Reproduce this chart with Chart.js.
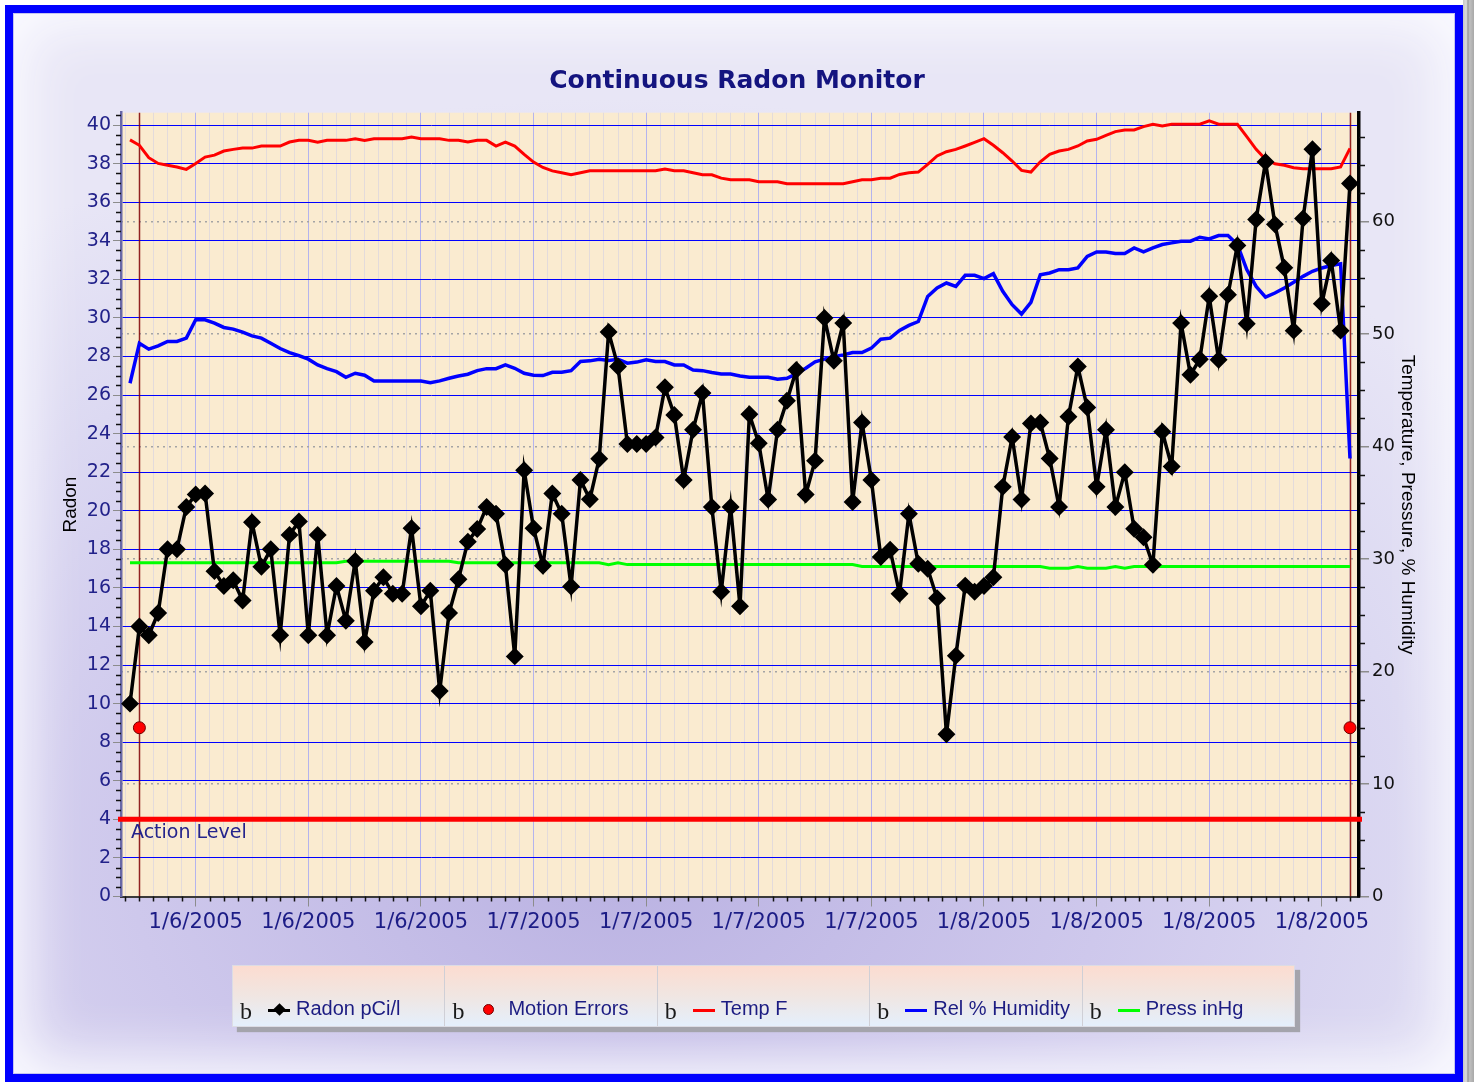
<!DOCTYPE html>
<html><head><meta charset="utf-8">
<script src="https://cdn.jsdelivr.net/npm/chart.js@4.4.1/dist/chart.umd.min.js"></script>
<style>
html,body{margin:0;padding:0;width:1474px;height:1082px;overflow:hidden;background:#fff;}
#frame{position:absolute;left:5px;top:5px;width:1458px;height:1077px;box-sizing:border-box;border:8px solid #0000ff;
 background:radial-gradient(ellipse 75% 72% at 42% 80%, #bab2e2 0%, #cec8ec 45%, #dcd9f2 75%, #e8e6f6 100%);
 box-shadow:inset 0 0 0 1px #c4c4f0, inset 0 0 55px 14px #fbfbff;}
#edge{position:absolute;left:1463px;top:0;width:11px;height:1082px;background:linear-gradient(to right,#c8c8c8 0,#dcdcdc 30%,#9a9a9a 45%,#c0c0c0 60%,#a8a8a8 100%);}
#chart{position:absolute;left:0;top:0;}
#legend{position:absolute;left:232px;top:965px;width:1063px;height:62px;display:flex;background:linear-gradient(to bottom,#fcdcd0 0%,#f0e6e2 50%,#e4effc 100%);box-shadow:5px 5px 1px #a4a4ac;border:1px solid #dcdce4;box-sizing:border-box;}
.cell{position:relative;flex:1;border-right:1px solid #cfcfd6;}
.cell:last-child{border-right:none}
.glyph{position:absolute;left:7px;top:33px;font:24px "Liberation Serif";color:#1a1a1a;line-height:1;}
.txt{position:absolute;left:63px;top:31px;font:20px "Liberation Sans";color:#1c1c82;white-space:nowrap;}
.mk{position:absolute;left:35px;top:43px;width:22px;height:3px;}
.dia{position:absolute;width:9px;height:9px;background:#000;transform:rotate(45deg);left:42px;top:39px;}
.dot{position:absolute;width:11px;height:11px;border-radius:50%;background:#ff0000;border:1px solid #700000;left:38px;top:38px;box-sizing:border-box;}
</style></head>
<body>
<div id="frame"></div>
<div id="edge"></div>
<canvas id="chart" width="1474" height="1082"></canvas>
<div id="legend"></div>
<script>
// ---------------- DATA ----------------
const chartTitle = 'Continuous Radon Monitor';
const xTickLabels = ['1/6/2005','1/6/2005','1/6/2005','1/7/2005','1/7/2005','1/7/2005','1/7/2005','1/8/2005','1/8/2005','1/8/2005','1/8/2005'];
const leftTicks = [0,2,4,6,8,10,12,14,16,18,20,22,24,26,28,30,32,34,36,38,40];
const rightTicks = [0,10,20,30,40,50,60];
const seriesLabels = ['Radon pCi/l','Motion Errors','Temp F','Rel % Humidity','Press inHg'];

const radon = [10.0,14.0,13.55,14.7,18.0,18.0,20.2,20.85,20.9,16.87,
 16.1,16.4,15.35,19.4,17.1,18.0,13.55,18.75,19.45,13.55,
 18.75,13.55,16.1,14.3,17.4,13.2,15.85,16.55,15.7,15.7,
 19.1,15.05,15.85,10.65,14.7,16.45,18.4,19.05,20.2,19.85,
 17.2,12.45,22.1,19.1,17.15,20.9,19.85,16.07,21.6,20.6,
 22.7,29.27,27.48,23.46,23.46,23.46,23.8,26.4,24.97,21.6,
 24.2,26.1,20.2,15.8,20.2,15.05,25.0,23.5,20.58,24.2,
 25.7,27.3,20.84,22.6,30.0,27.78,29.73,20.45,24.58,21.6,
 17.6,17.98,15.7,19.85,17.25,16.99,15.46,8.41,12.48,16.12,
 15.8,16.1,16.55,21.24,23.83,20.58,24.53,24.58,22.71,20.2,
 24.88,27.48,25.35,21.24,24.2,20.2,22.0,19.07,18.63,17.2,
 24.1,22.3,29.73,27.05,27.86,31.12,27.83,31.2,33.76,29.7,
 35.1,38.09,34.85,32.6,29.34,35.15,38.75,30.74,32.98,29.34,
 36.97];

const tempF = [67.25,66.77,65.67,65.16,64.99,64.84,64.63,65.16,65.72,65.9,
 66.26,66.41,66.52,66.52,66.7,66.7,66.7,67.06,67.21,67.21,
 67.04,67.21,67.21,67.21,67.36,67.21,67.36,67.36,67.36,67.36,
 67.51,67.36,67.36,67.36,67.21,67.21,67.06,67.21,67.21,66.7,
 67.06,66.7,65.97,65.28,64.8,64.5,64.33,64.15,64.33,64.51,
 64.51,64.51,64.51,64.51,64.51,64.51,64.51,64.66,64.51,64.51,
 64.33,64.15,64.15,63.85,63.7,63.7,63.7,63.53,63.53,63.53,
 63.35,63.35,63.35,63.35,63.35,63.35,63.35,63.53,63.7,63.7,
 63.85,63.85,64.18,64.33,64.39,65.08,65.82,66.2,66.41,66.71,
 67.03,67.36,66.77,66.11,65.37,64.54,64.39,65.31,65.97,66.26,
 66.41,66.71,67.15,67.3,67.66,67.99,68.13,68.13,68.43,68.64,
 68.49,68.64,68.64,68.64,68.64,68.94,68.64,68.64,68.64,67.54,
 66.41,65.52,65.13,64.99,64.78,64.69,64.69,64.69,64.69,64.84,
 66.5];

const humidity = [45.62,49.18,48.65,48.94,49.33,49.33,49.63,51.26,51.26,50.97,
 50.58,50.43,50.16,49.83,49.63,49.18,48.71,48.35,48.08,47.76,
 47.25,46.92,46.65,46.15,46.51,46.33,45.82,45.82,45.82,45.82,
 45.82,45.82,45.67,45.83,46.06,46.27,46.42,46.74,46.92,46.92,
 47.25,46.95,46.51,46.33,46.3,46.6,46.6,46.74,47.55,47.61,
 47.76,47.64,47.76,47.4,47.5,47.7,47.55,47.55,47.25,47.25,
 46.8,46.74,46.57,46.45,46.45,46.27,46.15,46.15,46.15,45.97,
 46.06,46.45,46.95,47.52,47.76,47.99,48.14,48.35,48.35,48.74,
 49.54,49.63,50.31,50.76,51.11,53.34,54.09,54.53,54.23,55.21,
 55.21,54.92,55.36,53.79,52.6,51.77,52.81,55.27,55.42,55.72,
 55.72,55.87,56.9,57.29,57.29,57.15,57.15,57.65,57.29,57.65,
 57.95,58.1,58.25,58.25,58.6,58.45,58.75,58.75,57.95,55.72,
 54.23,53.28,53.64,54.09,54.59,55.12,55.57,55.87,56.08,56.23,
 38.93];

const pressure = [29.66,29.66,29.66,29.66,29.66,29.66,29.66,29.66,29.66,29.66,
 29.66,29.66,29.66,29.66,29.66,29.66,29.66,29.66,29.66,29.66,
 29.66,29.66,29.66,29.8,29.8,29.8,29.8,29.8,29.8,29.8,
 29.8,29.8,29.8,29.8,29.8,29.66,29.66,29.66,29.66,29.66,
 29.66,29.66,29.66,29.66,29.66,29.66,29.66,29.66,29.66,29.66,
 29.66,29.5,29.66,29.5,29.5,29.5,29.5,29.5,29.5,29.5,
 29.5,29.5,29.5,29.5,29.5,29.5,29.5,29.5,29.5,29.5,
 29.5,29.5,29.5,29.5,29.5,29.5,29.5,29.5,29.34,29.34,
 29.34,29.34,29.34,29.34,29.34,29.34,29.34,29.34,29.34,29.34,
 29.34,29.34,29.34,29.34,29.34,29.34,29.34,29.34,29.18,29.18,
 29.18,29.34,29.18,29.18,29.18,29.34,29.18,29.34,29.34,29.34,
 29.34,29.34,29.34,29.34,29.34,29.34,29.34,29.34,29.34,29.34,
 29.34,29.34,29.34,29.34,29.34,29.34,29.34,29.34,29.34,29.34,
 29.34];

const motionErrorIndex = [1, 130];
const motionErrorValue = [15, 15];
const actionLevel = 4;
const actionLevelText = 'Action Level';
const axisTitleLeft = 'Radon';
const axisTitleRight = 'Temperature, Pressure, % Humidity';

// ---------------- SCALE SETTINGS ----------------
const X_MIN = -0.96, X_MAX = 130.96;
const FIRST_LABEL = 7, LABEL_STEP = 12, MINOR_STEP = 1.5;
const Y_MAX = 40.64, Y2_MAX = Y_MAX * 12 / 7;

const majorX = xTickLabels.map((_, k) => FIRST_LABEL + k * LABEL_STEP);
const allX = [];
for (let v = FIRST_LABEL - MINOR_STEP * Math.floor((FIRST_LABEL - X_MIN) / MINOR_STEP); v <= X_MAX; v += MINOR_STEP) allX.push(v);
const isMajorX = v => majorX.some(m => Math.abs(m - v) < 1e-6);

const pts = arr => arr.map((v, i) => ({x: i, y: v}));

Chart.defaults.font.family = 'DejaVu Sans';

const decor = {
  id: 'decor',
  beforeDraw(chart) {
    const {ctx, chartArea: a} = chart;
    ctx.save();
    ctx.fillStyle = '#faebd0';
    ctx.fillRect(a.left, a.top, a.right - a.left, a.bottom - a.top);
    ctx.restore();
  },
  beforeDatasetsDraw(chart) {
    const {ctx, chartArea: a, scales} = chart;
    ctx.save();
    ctx.strokeStyle = 'rgba(130,0,0,0.85)';
    ctx.lineWidth = 1.5;
    motionErrorIndex.forEach(i => {
      const x = Math.round(scales.x.getPixelForValue(i)) + 0.5;
      ctx.beginPath(); ctx.moveTo(x, a.top); ctx.lineTo(x, a.bottom); ctx.stroke();
    });
    const y = scales.y.getPixelForValue(actionLevel);
    ctx.strokeStyle = '#ff0000';
    ctx.lineWidth = 5;
    ctx.beginPath(); ctx.moveTo(a.left - 3, y); ctx.lineTo(a.right + 3, y); ctx.stroke();
    ctx.fillStyle = '#24248c';
    ctx.font = '19px "DejaVu Sans"';
    ctx.textBaseline = 'alphabetic';
    ctx.fillText(actionLevelText, a.left + 10, y + 19);
    ctx.restore();
  },
  afterDraw(chart) {
    const {ctx, chartArea: a, scales} = chart;
    ctx.save();
    ctx.strokeStyle = '#111';
    ctx.lineWidth = 1.5;
    ctx.beginPath();
    for (let v = 0; v <= Y_MAX + 1e-9; v += 0.5) {
      if (Math.abs(v / 2 - Math.round(v / 2)) < 1e-6) continue;
      const y = Math.round(scales.y.getPixelForValue(v)) + 0.5;
      ctx.moveTo(a.left - 5, y); ctx.lineTo(a.left, y);
    }
    for (let v = 0; v <= Y2_MAX + 1e-9; v += 2.5) {
      if (Math.abs(v / 10 - Math.round(v / 10)) < 1e-6) continue;
      const y = Math.round(scales.y2.getPixelForValue(v)) + 0.5;
      ctx.moveTo(a.right, y); ctx.lineTo(a.right + 6, y);
    }
    allX.forEach(v => {
      if (isMajorX(v)) return;
      const x = Math.round(scales.x.getPixelForValue(v)) + 0.5;
      ctx.moveTo(x, a.bottom); ctx.lineTo(x, a.bottom + 5);
    });
    ctx.stroke();
    ctx.restore();
  }
};

const chart = new Chart(document.getElementById('chart'), {
  type: 'line',
  data: {
    datasets: [
      { label: seriesLabels[0], data: pts(radon), yAxisID: 'y', borderColor: '#000', backgroundColor: '#000',
        borderWidth: 3.5, pointStyle: 'rectRot', pointRadius: 6.5, pointBorderColor: '#000', pointBackgroundColor: '#000', order: 0 },
      { label: seriesLabels[1], data: motionErrorIndex.map((x, k) => ({x, y: motionErrorValue[k]})), yAxisID: 'y2',
        showLine: false, pointStyle: 'circle', pointRadius: 6, pointBackgroundColor: '#ff0000', pointBorderColor: '#700000',
        pointBorderWidth: 1, borderColor: '#ff0000', backgroundColor: '#ff0000', order: 1 },
      { label: seriesLabels[2], data: pts(tempF), yAxisID: 'y2', borderColor: '#ff0000', backgroundColor: '#ff0000',
        borderWidth: 3, pointRadius: 0, order: 3 },
      { label: seriesLabels[3], data: pts(humidity), yAxisID: 'y2', borderColor: '#0000ff', backgroundColor: '#0000ff',
        borderWidth: 3.5, pointRadius: 0, order: 2 },
      { label: seriesLabels[4], data: pts(pressure), yAxisID: 'y2', borderColor: '#00ff00', backgroundColor: '#00ff00',
        borderWidth: 3, pointRadius: 0, order: 4 }
    ]
  },
  options: {
    responsive: false, animation: false, devicePixelRatio: 1,
    layout: { padding: 0 },
    elements: { line: { tension: 0 } },
    plugins: {
      legend: { display: false },
      tooltip: { enabled: false },
      title: { display: true, text: chartTitle, color: '#14147f',
        font: { family: 'DejaVu Sans', size: 25, weight: 'bold' }, padding: { top: 66, bottom: 16.7 } }
    },
    scales: {
      x: {
        type: 'linear', position: 'bottom', min: X_MIN, max: X_MAX,
        afterBuildTicks: s => { s.ticks = allX.map(v => ({ value: v })); },
        afterFit: s => { s.height = 185.5; },
        ticks: { autoSkip: false, maxRotation: 0, minRotation: 0, padding: 3, color: '#1c1c86',
          font: { size: 21 },
          callback: v => { const k = majorX.findIndex(m => Math.abs(m - v) < 1e-6); return k >= 0 ? xTickLabels[k] : ''; } },
        grid: { color: c => (c.tick && isMajorX(c.tick.value)) ? '#b4b4ee' : 'rgba(200,200,232,0.45)', lineWidth: 1,
          tickColor: c => (c.tick && isMajorX(c.tick.value)) ? '#8c8c8c' : 'rgba(0,0,0,0)', tickLength: 10 },
        border: { color: '#3a3a3a', width: 2 }
      },
      y: {
        position: 'left', min: 0, max: Y_MAX,
        afterBuildTicks: s => { s.ticks = leftTicks.map(v => ({ value: v })); },
        afterFit: s => { s.width = 121; },
        ticks: { padding: 2, color: '#22228a', font: { size: 19 } },
        grid: { color: '#0000ff', lineWidth: 1, tickColor: '#8c8c8c', tickLength: 8 },
        border: { color: '#6868a8', width: 2.5 },
        title: { display: true, text: axisTitleLeft, color: '#000', font: { family: 'Liberation Sans', size: 19 },
          padding: { top: 59.6, bottom: 0 } }
      },
      y2: {
        position: 'right', min: 0, max: Y2_MAX,
        afterBuildTicks: s => { s.ticks = rightTicks.map(v => ({ value: v })); },
        afterFit: s => { s.width = 115; },
        ticks: { padding: 3, color: '#111', font: { size: 18 } },
        grid: { color: '#a4a4a4', lineWidth: 1.5, tickColor: '#8c8c8c', tickLength: 10, tickBorderDash: [] },
        border: { color: '#000', width: 3.5, dash: [2, 4] },
        title: { display: true, text: axisTitleRight, color: '#000', font: { family: 'Liberation Sans', size: 19 },
          padding: { top: 55.6, bottom: 0 } }
      }
    }
  },
  plugins: [decor]
});

// ---------------- HTML LEGEND (from datasets) ----------------
const legendEl = document.getElementById('legend');
chart.data.datasets.forEach(ds => {
  const cell = document.createElement('div'); cell.className = 'cell';
  const g = document.createElement('span'); g.className = 'glyph'; g.textContent = 'b'; cell.appendChild(g);
  if (ds.showLine === false) {
    const d = document.createElement('div'); d.className = 'dot'; cell.appendChild(d);
  } else {
    const m = document.createElement('div'); m.className = 'mk'; m.style.background = ds.borderColor; cell.appendChild(m);
    if (ds.pointStyle === 'rectRot') { const d = document.createElement('div'); d.className = 'dia'; cell.appendChild(d); }
  }
  const t = document.createElement('span'); t.className = 'txt'; t.textContent = ds.label; cell.appendChild(t);
  legendEl.appendChild(cell);
});
</script>
</body></html>
